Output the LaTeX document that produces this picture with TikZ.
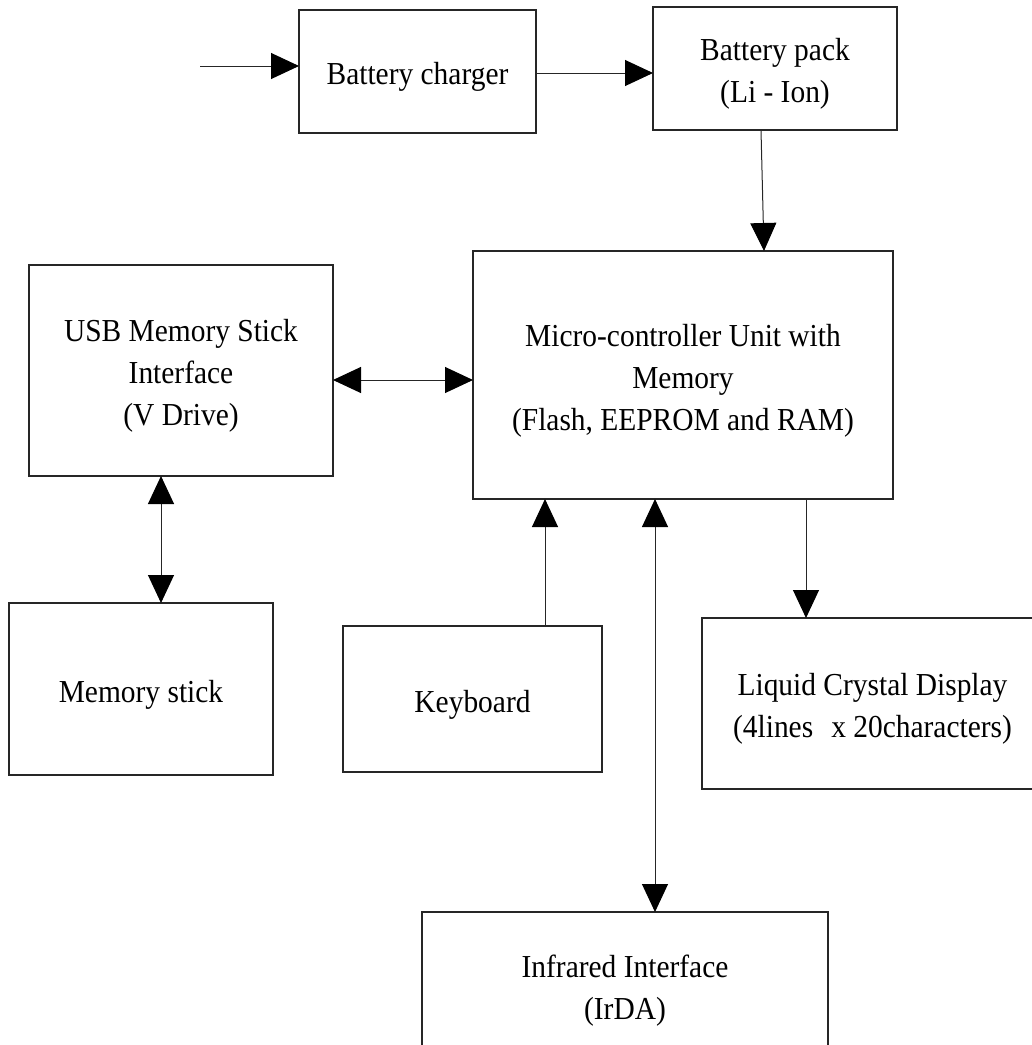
\documentclass[tikz,border=0pt]{standalone}
\usepackage{fontspec}
\setmainfont{Liberation Serif}[FakeStretch=0.92]
\usetikzlibrary{arrows.meta,calc}
\newcommand{\tsh}{\rule{0pt}{33pt}}
\begin{document}
\begin{tikzpicture}[x=1pt,y=-1pt,
  box/.style={draw=black!85, line width=1.1pt, inner sep=0pt, outer sep=0pt, align=center,
    font=\fontsize{32}{42}\selectfont},
  arr/.style={draw=black!85, line width=1pt, -{Triangle[length=28pt,width=26pt,color=black]}},
  dbl/.style={draw=black!85, line width=1pt,
    {Triangle[length=28pt,width=26pt,color=black]}-{Triangle[length=28pt,width=26pt,color=black]}}]
\useasboundingbox (0,0) rectangle (1032,1045);
\clip (0,0) rectangle (1032,1045);

\node[box, minimum width=237pt, minimum height=123pt] (charger) at (417.5,71.5) {\tsh Battery charger};
\node[box, minimum width=244pt, minimum height=123pt] (pack) at (775,68.5) {\tsh Battery pack\\(Li - Ion)};
\node[box, minimum width=420pt, minimum height=248pt] (mcu) at (683,375) {\tsh Micro-controller Unit with\\Memory\\(Flash, EEPROM and RAM)};
\node[box, minimum width=304pt, minimum height=211pt] (usb) at (181,370.5) {\tsh USB Memory Stick\\Interface\\(V Drive)};
\node[box, minimum width=264pt, minimum height=172pt] (mem) at (141,689) {\tsh Memory stick};
\node[box, minimum width=259pt, minimum height=146pt] (kbd) at (472.5,699) {\tsh Keyboard};
\node[box, minimum width=341pt, minimum height=171pt] (lcd) at (872.5,703.5) {\tsh Liquid Crystal Display\\(4lines\hspace{18pt}x 20characters)};
\node[box, minimum width=406pt, minimum height=146pt] (ir) at (625,985) {\tsh Infrared Interface\\(IrDA)};

\coordinate (src) at (200,66);
\draw[arr] (src) -- (src -| charger.west);
\draw[arr] (charger.east |- 0,73) -- (pack.west |- 0,73);
\draw[arr] ($(pack.south west)+(108,0)$) -- ($(mcu.north west)+(291,0)$);
\draw[dbl] (usb.east |- 0,380) -- (mcu.west |- 0,380);
\draw[dbl] (usb.south -| 161,0) -- (mem.north -| 161,0);
\draw[arr] (kbd.north -| 545,0) -- (mcu.south -| 545,0);
\draw[dbl] (mcu.south -| 655,0) -- (ir.north -| 655,0);
\draw[arr] (mcu.south -| 806,0) -- (lcd.north -| 806,0);
\end{tikzpicture}
\end{document}
